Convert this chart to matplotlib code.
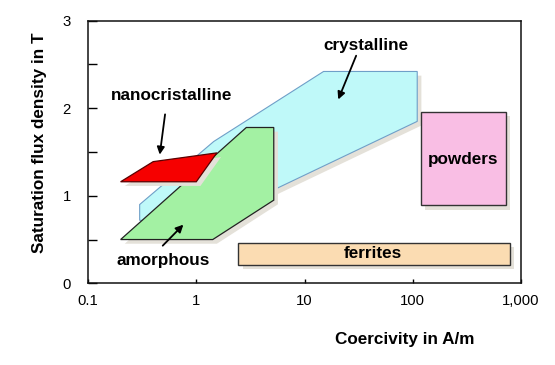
import matplotlib
matplotlib.use("Agg")
import matplotlib.pyplot as plt
import matplotlib.patheffects as pe
from matplotlib.patches import Polygon
from matplotlib.ticker import FixedLocator, FixedFormatter, MultipleLocator

plt.rcParams['font.family'] = ['Liberation Sans', 'DejaVu Sans']

# --- data: material regions (coercivity A/m, flux density T) ---
cryst_x = [0.3, 0.3, 1.45, 15, 110, 110, 1.1]
cryst_y = [0.72, 0.90, 1.62, 2.42, 2.42, 1.85, 0.67]

nano_x = [0.2, 0.4, 1.55, 1.0]
nano_y = [1.16, 1.39, 1.49, 1.16]

amorph_x = [0.2, 2.9, 5.2, 5.2, 1.42]
amorph_y = [0.5, 1.78, 1.78, 0.95, 0.5]

powder_x = [120, 720, 720, 120]
powder_y = [0.89, 0.89, 1.96, 1.96]

ferrite_x = [2.45, 790, 790, 2.45]
ferrite_y = [0.21, 0.21, 0.46, 0.46]

# labels: (text, x, y)
labels = ['crystalline', 'nanocristalline', 'powders', 'ferrites', 'amorphous']
label_x = [37, 0.59, 290, 43, 0.49]
label_y = [2.72, 2.14, 1.42, 0.335, 0.255]

# arrows: start -> end
arrow_x0 = [30, 0.515, 0.49]
arrow_y0 = [2.60, 1.93, 0.43]
arrow_x1 = [20.5, 0.46, 0.76]
arrow_y1 = [2.10, 1.47, 0.67]

xticks = [0.1, 1, 10, 100, 1000]
xtick_labels = ['0.1', '1', '10', '100', '1,000']
yticks = [0, 1, 2, 3]

fig = plt.figure(figsize=(5.55, 3.65), dpi=100)
ax = fig.add_axes([0.1586, 0.2238, 0.7801, 0.7195])
ax.set_xscale('log')
ax.set_xlim(0.1, 1000)
ax.set_ylim(0, 3)

shadow = [pe.SimplePatchShadow(offset=(3, -3), shadow_rgbFace='#e4e1d9', alpha=1.0),
          pe.Normal()]

regions = [
    (cryst_x, cryst_y, '#bff9f9', '#6f9fc8', 0.8),
    (ferrite_x, ferrite_y, '#fbdcb2', '#333333', 1.0),
    (powder_x, powder_y, '#f9bee4', '#333333', 1.0),
    (amorph_x, amorph_y, '#a3f1a3', '#222222', 0.9),
    (nano_x, nano_y, '#f60000', '#5a0000', 0.9),
]
for i, (px, py, fc, ec, lw) in enumerate(regions):
    poly = Polygon(list(zip(px, py)), closed=True, facecolor=fc,
                   edgecolor=ec, linewidth=lw, zorder=2 + i)
    poly.set_path_effects(shadow)
    ax.add_patch(poly)

for t, x, y in zip(labels, label_x, label_y):
    ax.text(x, y, t, ha='center', va='center', fontsize=12.3,
            fontweight='bold', zorder=10)

for x0, y0, x1, y1 in zip(arrow_x0, arrow_y0, arrow_x1, arrow_y1):
    ax.annotate('', xy=(x1, y1), xytext=(x0, y0),
                arrowprops=dict(arrowstyle='-|>', color='black', lw=1.3,
                                mutation_scale=11, shrinkA=0, shrinkB=0),
                zorder=11)

ax.xaxis.set_major_locator(FixedLocator(xticks))
ax.xaxis.set_major_formatter(FixedFormatter(xtick_labels))
ax.xaxis.set_minor_locator(FixedLocator([]))
ax.yaxis.set_major_locator(FixedLocator(yticks))
ax.yaxis.set_minor_locator(MultipleLocator(0.5))

ax.tick_params(axis='x', which='major', direction='in', length=2.8, width=1,
               pad=8, labelsize=10.7, top=False)
ax.tick_params(axis='y', which='both', direction='in', length=6.5, width=1,
               pad=12.5, labelsize=10.7, right=False)
ax.tick_params(axis='y', which='minor', labelleft=False)

for s in ax.spines.values():
    s.set_linewidth(1.1)
    s.set_color('#111111')

fig.text(0.7297, 0.0712, 'Coercivity in A/m', ha='center', va='center',
         fontsize=12.3, fontweight='bold')
fig.text(0.072, 0.6096, 'Saturation flux density in T', ha='center',
         va='center', rotation=90, fontsize=12.3, fontweight='bold')

fig.savefig('out.png', dpi=100)
